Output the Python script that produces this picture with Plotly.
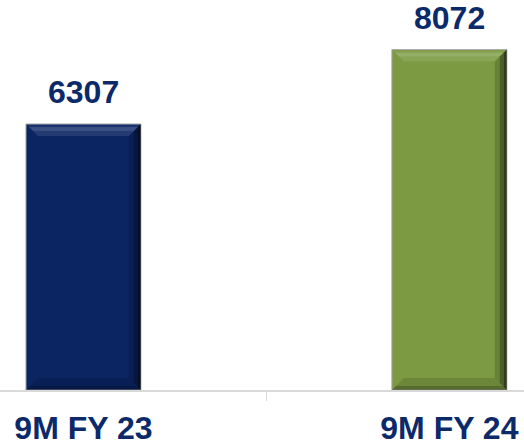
import plotly.graph_objects as go

categories = ["9M FY 23", "9M FY 24"]
values = [6307, 8072]
bar_colors = ["#0b2563", "#7b9a42"]
text_color = "#0c2a69"

xpos = list(range(len(categories)))
bar_width = 0.314
y_max = 9246

fig = go.Figure()
fig.add_trace(go.Bar(
    x=xpos, y=values, width=bar_width,
    marker=dict(color=bar_colors, line=dict(color="#a8a8a8", width=1)),
    hoverinfo="skip",
))

# bevel overlays derived from bar data (inset distances in pixels)
ux = 1 / 366.0          # x data units per pixel
uy = y_max / 390.0      # y data units per pixel


def path(pts):
    return "M " + " L ".join(f"{px},{py}" for px, py in pts) + " Z"


shapes = []
for c, v in zip(xpos, values):
    l, r = c - bar_width / 2, c + bar_width / 2
    top_strips = [(0, 3, "rgba(255,255,255,0.06)"), (3, 7, "rgba(255,255,255,0.2)"),
                  (7, 12, "rgba(255,255,255,0.1)")]
    right_strips = [(0, 3, "rgba(0,0,0,0.6)"), (3, 7, "rgba(0,0,0,0.38)"),
                    (7, 12, "rgba(0,0,0,0.15)")]
    bottom_strips = [(0, 4, "rgba(0,0,0,0.3)"), (4, 12, "rgba(0,0,0,0.12)")]
    for d0, d1, col in top_strips:
        pts = [(l + d0 * ux, v - d0 * uy), (r - d0 * ux, v - d0 * uy),
               (r - d1 * ux, v - d1 * uy), (l + d1 * ux, v - d1 * uy)]
        shapes.append(dict(type="path", xref="x", yref="y", line=dict(width=0),
                           fillcolor=col, path=path(pts), layer="above"))
    for d0, d1, col in right_strips:
        pts = [(r - d0 * ux, v - d0 * uy), (r - d0 * ux, d0 * uy),
               (r - d1 * ux, d1 * uy), (r - d1 * ux, v - d1 * uy)]
        shapes.append(dict(type="path", xref="x", yref="y", line=dict(width=0),
                           fillcolor=col, path=path(pts), layer="above"))
    for d0, d1, col in bottom_strips:
        pts = [(l + d0 * ux, d0 * uy), (r - d0 * ux, d0 * uy),
               (r - d1 * ux, d1 * uy), (l + d1 * ux, d1 * uy)]
        shapes.append(dict(type="path", xref="x", yref="y", line=dict(width=0),
                           fillcolor=col, path=path(pts), layer="above"))

annotations = []
for c, v in zip(xpos, values):
    annotations.append(dict(
        x=c, y=v, xref="x", yref="y", text=f"<b>{v}</b>", showarrow=False,
        yanchor="bottom", yshift=12,
        font=dict(family="Liberation Sans, Arial", size=32, color=text_color),
    ))

fig.update_layout(
    width=524, height=446,
    margin=dict(l=0, r=0, t=0, b=56),
    paper_bgcolor="white", plot_bgcolor="white",
    showlegend=False,
    shapes=shapes,
    annotations=annotations,
    xaxis=dict(
        range=[-0.228, 1.204],
        tickmode="array", tickvals=xpos,
        ticktext=[f"<b>{c}</b>" for c in categories],
        ticks="", showgrid=False, zeroline=False,
        showline=True, linecolor="#d9d9d9", linewidth=2,
        tickfont=dict(family="Liberation Sans, Arial", size=32, color=text_color),
        ticklabelstandoff=9,
        minor=dict(tickmode="array", tickvals=[0.5], ticks="outside",
                   ticklen=9, tickcolor="#d9d9d9", tickwidth=1, showgrid=False),
    ),
    yaxis=dict(range=[0, y_max], visible=False, showgrid=False, zeroline=False),
)

fig.write_html("out.html")
